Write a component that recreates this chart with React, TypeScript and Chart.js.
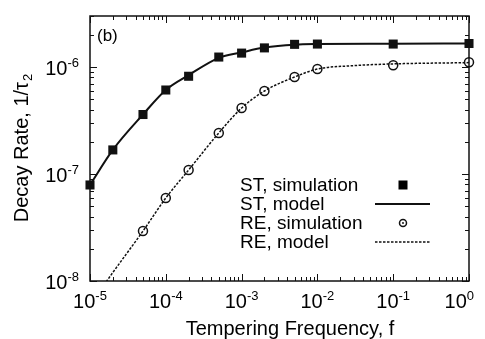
import React, { useEffect, useRef } from "react";
import { Chart, registerables } from "chart.js";

Chart.register(...registerables);

// ---- data ----
const stFreq = [1e-5, 2e-5, 5e-5, 1e-4, 2e-4, 5e-4, 1e-3, 2e-3, 5e-3, 1e-2, 1e-1, 1];
const stSim = [7.9e-8, 1.68e-7, 3.6e-7, 6.1e-7, 8.2e-7, 1.24e-6, 1.35e-6, 1.51e-6, 1.63e-6, 1.64e-6, 1.64e-6, 1.66e-6];
const stModelFreq = [1e-5, 2e-5, 5e-5, 1e-4, 2e-4, 5e-4, 1e-3, 2e-3, 5e-3, 1e-2, 1e-1, 1];
const stModel = [7.9e-8, 1.68e-7, 3.6e-7, 6.1e-7, 8.4e-7, 1.22e-6, 1.37e-6, 1.52e-6, 1.62e-6, 1.64e-6, 1.65e-6, 1.66e-6];
const reFreq = [5e-5, 1e-4, 2e-4, 5e-4, 1e-3, 2e-3, 5e-3, 1e-2, 1e-1, 1];
const reSim = [2.93e-8, 5.97e-8, 1.09e-7, 2.42e-7, 4.14e-7, 5.97e-7, 8.07e-7, 9.57e-7, 1.04e-6, 1.11e-6];
const reModelFreq = [1e-5, 2e-5, 5e-5, 1e-4, 2e-4, 5e-4, 1e-3, 2e-3, 5e-3, 1e-2, 3e-2, 1e-1, 1];
const reModel = [6e-9, 1.2e-8, 2.93e-8, 5.97e-8, 1.09e-7, 2.42e-7, 4.14e-7, 5.97e-7, 8.07e-7, 9.57e-7, 1.03e-6, 1.07e-6, 1.1e-6];

const xMajorTicks = [1e-5, 1e-4, 1e-3, 1e-2, 1e-1, 1];
const yMajorTicks = [1e-8, 1e-7, 1e-6];
const minorMultipliers = [2, 3, 4, 5, 6, 7, 8, 9];
const legendLabels = ["ST, simulation", "ST, model", "RE, simulation", "RE, model"];
const xTitle = "Tempering Frequency, f";
const yTitleMain = "Decay Rate, 1/\u03c4";
const yTitleSub = "2";
const panelLabel = "(b)";

const FAMILY = '"Liberation Sans", Arial, Helvetica, sans-serif';
const INK = "#111";

function drawPow(ctx: CanvasRenderingContext2D, exp: string, x: number, y: number, align: "center" | "right", maxRight?: number) {
  ctx.save();
  ctx.textAlign = "left";
  ctx.textBaseline = "alphabetic";
  ctx.font = `20px ${FAMILY}`;
  const w1 = ctx.measureText("10").width;
  ctx.font = `13px ${FAMILY}`;
  const w2 = ctx.measureText(exp).width;
  const total = w1 + w2;
  let sx = align === "center" ? x - total / 2 : x - total;
  if (maxRight !== undefined && sx + total > maxRight) sx = maxRight - total;
  ctx.font = `20px ${FAMILY}`;
  ctx.fillText("10", sx, y);
  ctx.font = `13px ${FAMILY}`;
  ctx.fillText(exp, sx + w1, y - 8);
  ctx.restore();
}

const framePlugin = {
  id: "framePlugin",
  afterDraw(chart: any) {
    const ctx: CanvasRenderingContext2D = chart.ctx;
    const { left, right, top, bottom } = chart.chartArea;
    const xs = chart.scales.x;
    const ys = chart.scales.y;
    ctx.save();
    ctx.strokeStyle = INK;
    ctx.fillStyle = INK;
    ctx.lineWidth = 1.5;
    ctx.strokeRect(left, top, right - left, bottom - top);

    // ticks
    ctx.lineWidth = 1;
    const majorLen = 7;
    const minorLen = 4;
    const xVals: [number, number][] = [];
    xMajorTicks.forEach((v, i) => {
      xVals.push([v, majorLen]);
      if (i < xMajorTicks.length - 1) minorMultipliers.forEach((m) => xVals.push([v * m, minorLen]));
    });
    ctx.beginPath();
    xVals.forEach(([v, len]) => {
      const px = Math.round(xs.getPixelForValue(v)) + 0.5;
      ctx.moveTo(px, bottom);
      ctx.lineTo(px, bottom - len);
      ctx.moveTo(px, top);
      ctx.lineTo(px, top + len);
    });
    const yVals: [number, number][] = [];
    yMajorTicks.forEach((v) => {
      yVals.push([v, majorLen]);
      minorMultipliers.forEach((m) => {
        if (v * m <= ys.max) yVals.push([v * m, minorLen]);
      });
    });
    yVals.forEach(([v, len]) => {
      const py = Math.round(ys.getPixelForValue(v)) + 0.5;
      if (py < top - 0.5 || py > bottom + 0.5) return;
      ctx.moveTo(left, py);
      ctx.lineTo(left + len, py);
      ctx.moveTo(right, py);
      ctx.lineTo(right - len, py);
    });
    ctx.stroke();

    // tick labels
    ctx.fillStyle = "#000";
    xMajorTicks.forEach((v) => {
      const px = xs.getPixelForValue(v);
      drawPow(ctx, String(Math.round(Math.log10(v))), px, 308, "center", 474);
    });
    yMajorTicks.forEach((v) => {
      const py = ys.getPixelForValue(v);
      drawPow(ctx, String(Math.round(Math.log10(v))), left - 11, py + 7.5, "right");
    });

    // axis titles
    ctx.font = `20px ${FAMILY}`;
    ctx.textAlign = "center";
    ctx.textBaseline = "alphabetic";
    ctx.fillText(xTitle, 290, 335);

    ctx.save();
    ctx.translate(28, (top + bottom) / 2);
    ctx.rotate(-Math.PI / 2);
    ctx.font = `20px ${FAMILY}`;
    const wm = ctx.measureText(yTitleMain).width;
    ctx.font = `13px ${FAMILY}`;
    const ws = ctx.measureText(yTitleSub).width;
    const sx = -(wm + ws) / 2;
    ctx.textAlign = "left";
    ctx.font = `20px ${FAMILY}`;
    ctx.fillText(yTitleMain, sx, 0);
    ctx.font = `13px ${FAMILY}`;
    ctx.fillText(yTitleSub, sx + wm + 1, 4);
    ctx.restore();

    // panel label
    ctx.font = `17px ${FAMILY}`;
    ctx.textAlign = "left";
    ctx.fillText(panelLabel, 97, 41);

    // legend
    const rowY = [185, 204, 223, 242];
    ctx.font = `19px ${FAMILY}`;
    ctx.textBaseline = "middle";
    legendLabels.forEach((t, i) => {
      ctx.fillText(t, 240, rowY[i] + 1);
    });
    // square
    ctx.fillRect(403 - 4.5, rowY[0] - 4.5, 9, 9);
    // solid line
    ctx.lineWidth = 2;
    ctx.setLineDash([]);
    ctx.beginPath();
    ctx.moveTo(375, rowY[1]);
    ctx.lineTo(430, rowY[1]);
    ctx.stroke();
    // circle with dot
    ctx.lineWidth = 1.5;
    ctx.beginPath();
    ctx.arc(403, rowY[2], 3.5, 0, Math.PI * 2);
    ctx.stroke();
    ctx.beginPath();
    ctx.arc(403, rowY[2], 0.9, 0, Math.PI * 2);
    ctx.fill();
    // dotted line
    ctx.lineWidth = 1.5;
    ctx.setLineDash([2.5, 1.5]);
    ctx.beginPath();
    ctx.moveTo(375, rowY[3]);
    ctx.lineTo(430, rowY[3]);
    ctx.stroke();
    ctx.restore();
  },
};

export default function App() {
  const canvasRef = useRef<HTMLCanvasElement | null>(null);

  useEffect(() => {
    document.body.style.margin = "0";
    const canvas = canvasRef.current;
    if (!canvas) return;
    const chart = new Chart(canvas, {
      type: "scatter",
      data: {
        datasets: [
          {
            label: "ST, model",
            data: stModelFreq.map((x, i) => ({ x, y: stModel[i] })),
            showLine: true,
            borderColor: INK,
            borderWidth: 2,
            pointRadius: 0,
            tension: 0.4,
            cubicInterpolationMode: "monotone",
          },
          {
            label: "RE, model",
            data: reModelFreq.map((x, i) => ({ x, y: reModel[i] })),
            showLine: true,
            borderColor: INK,
            borderWidth: 1.5,
            borderDash: [2.5, 1.5],
            pointRadius: 0,
            tension: 0.4,
            cubicInterpolationMode: "monotone",
          },
          {
            label: "ST, simulation",
            data: stFreq.map((x, i) => ({ x, y: stSim[i] })),
            showLine: false,
            pointStyle: "rect",
            pointRadius: 6.4,
            backgroundColor: INK,
            borderColor: INK,
            borderWidth: 0,
            clip: false,
          },
          {
            label: "RE, simulation",
            data: reFreq.map((x, i) => ({ x, y: reSim[i] })),
            showLine: false,
            pointStyle: "circle",
            pointRadius: 4.5,
            backgroundColor: "rgba(255,255,255,0)",
            borderColor: INK,
            borderWidth: 1.5,
            clip: false,
          },
        ],
      } as any,
      options: {
        animation: false,
        responsive: false,
        events: [],
        layout: { padding: { left: 90, right: 16, top: 16, bottom: 58 } },
        scales: {
          x: { type: "logarithmic", min: 1e-5, max: 1, display: false },
          y: { type: "logarithmic", min: 1e-8, max: 3e-6, display: false },
        },
        plugins: { legend: { display: false }, tooltip: { enabled: false } },
      } as any,
      plugins: [framePlugin],
    });
    return () => chart.destroy();
  }, []);

  return (
    <div style={{ width: 485, height: 339, background: "#fff" }}>
      <canvas ref={canvasRef} width={485} height={339} style={{ display: "block" }} />
    </div>
  );
}
